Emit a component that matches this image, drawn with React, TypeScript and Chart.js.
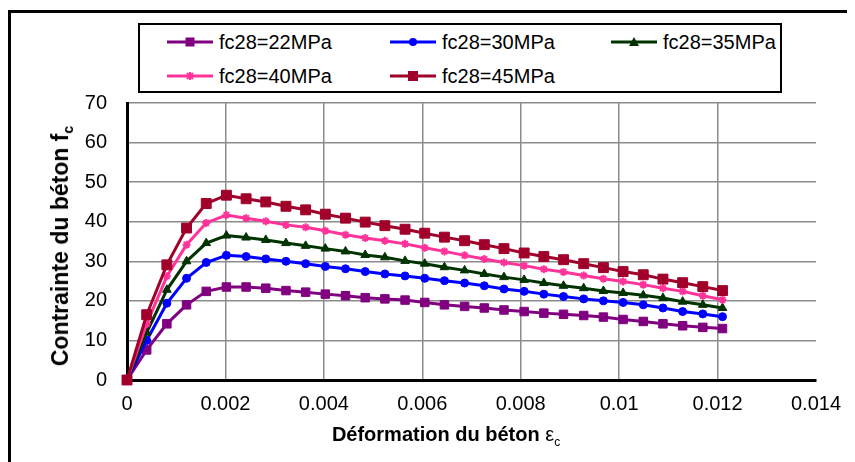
import React, { useEffect, useRef } from "react";
import { Chart, registerables } from "chart.js";

Chart.register(...registerables);

// Strain values (x)
const strain = [
  0, 0.0004, 0.00081, 0.00121, 0.00161, 0.00202, 0.00242, 0.00282, 0.00323, 0.00363,
  0.00403, 0.00444, 0.00484, 0.00524, 0.00565, 0.00605, 0.00645, 0.00686, 0.00726, 0.00766,
  0.00807, 0.00847, 0.00887, 0.00928, 0.00968, 0.01008, 0.01049, 0.01089, 0.01129, 0.0117,
  0.0121,
];

// Stress values (y) for each concrete class
const fc22 = [
  0, 7.6, 14.2, 19.0, 22.4, 23.5, 23.5, 23.2, 22.6, 22.2, 21.7, 21.3, 20.8, 20.5, 20.2, 19.6,
  19.0, 18.6, 18.2, 17.7, 17.3, 16.9, 16.6, 16.3, 15.9, 15.3, 14.8, 14.2, 13.7, 13.3, 13.0,
];
const fc30 = [
  0, 10.0, 19.4, 25.7, 29.7, 31.5, 31.2, 30.6, 30.0, 29.4, 28.7, 28.1, 27.4, 26.8, 26.3, 25.7,
  25.1, 24.5, 23.8, 23.0, 22.4, 21.7, 21.1, 20.5, 20.0, 19.6, 19.0, 18.2, 17.3, 16.7, 16.0,
];
const fc35 = [
  0, 12.0, 22.8, 30.0, 34.6, 36.5, 36.0, 35.4, 34.6, 33.9, 33.2, 32.5, 31.6, 31.0, 30.1, 29.4,
  28.5, 27.7, 26.8, 26.0, 25.3, 24.5, 23.8, 23.2, 22.5, 22.0, 21.4, 20.7, 19.8, 19.0, 18.2,
];
const fc40 = [
  0, 14.2, 26.2, 34.2, 39.7, 41.7, 40.9, 40.1, 39.2, 38.6, 37.7, 36.7, 35.9, 35.2, 34.4, 33.4,
  32.5, 31.5, 30.6, 29.7, 28.9, 28.0, 27.3, 26.4, 25.6, 24.9, 24.1, 23.2, 22.4, 21.3, 20.3,
];
const fc45 = [
  0, 16.5, 29.1, 38.4, 44.6, 46.7, 45.8, 45.0, 43.9, 43.0, 41.9, 40.9, 39.9, 39.0, 38.1, 37.1,
  36.1, 35.2, 34.2, 33.2, 32.1, 31.2, 30.4, 29.4, 28.4, 27.4, 26.6, 25.5, 24.6, 23.6, 22.6,
];

const seriesNames = ["fc28=22MPa", "fc28=30MPa", "fc28=35MPa", "fc28=40MPa", "fc28=45MPa"];
const seriesValues = [fc22, fc30, fc35, fc40, fc45];

const xTickValues = [0, 0.002, 0.004, 0.006, 0.008, 0.01, 0.012, 0.014];
const xTickLabels = ["0", "0.002", "0.004", "0.006", "0.008", "0.01", "0.012", "0.014"];
const yTickValues = [0, 10, 20, 30, 40, 50, 60, 70];
const yTickLabels = ["0", "10", "20", "30", "40", "50", "60", "70"];

const xTitle = "Déformation du béton ";
const yTitle = "Contrainte du béton f";

// styles
const seriesColors = ["#800080", "#0000ff", "#003300", "#ff3399", "#a0002a"];
const seriesMarkers = ["rect", "circle", "triangle", "star", "rect"];
const seriesRadius = [6, 4, 5, 4, 7];

const FONT = '"Liberation Sans", Arial, sans-serif';

function LegendSymbol({ idx }: { idx: number }) {
  const c = seriesColors[idx];
  const m = seriesMarkers[idx];
  let marker: any = null;
  if (m === "rect") {
    const s = idx === 4 ? 10 : 9;
    marker = <rect x={23 - s / 2} y={8 - s / 2} width={s} height={s} fill={c} />;
  } else if (m === "circle") {
    marker = <circle cx={23} cy={8} r={4} fill={c} />;
  } else if (m === "triangle") {
    marker = <polygon points="23,3 28,12 18,12" fill={c} />;
  } else {
    marker = (
      <g stroke={c} strokeWidth={2}>
        <line x1={23} y1={4} x2={23} y2={12} />
        <line x1={19} y1={8} x2={27} y2={8} />
        <line x1={20} y1={5} x2={26} y2={11} />
        <line x1={26} y1={5} x2={20} y2={11} />
      </g>
    );
  }
  return (
    <svg width={46} height={16} style={{ position: "absolute", left: 0, top: -8 }}>
      <line x1={0} y1={8} x2={46} y2={8} stroke={c} strokeWidth={3} />
      {marker}
    </svg>
  );
}

export default function App() {
  const ref = useRef<HTMLCanvasElement>(null);

  useEffect(() => {
    const datasets = seriesValues.map((vals, i) => ({
      label: seriesNames[i],
      data: vals.map((v, j) => ({ x: strain[j], y: v })),
      borderColor: seriesColors[i],
      backgroundColor: seriesColors[i],
      borderWidth: 3,
      pointStyle: seriesMarkers[i] as any,
      pointRadius: seriesRadius[i],
      pointBorderWidth: seriesMarkers[i] === "star" ? 2 : 1,
      pointBorderColor: seriesColors[i],
      pointBackgroundColor: seriesColors[i],
      tension: 0,
      clip: false as any,
      order: seriesValues.length - i,
    }));

    const chart = new Chart(ref.current!, {
      type: "line",
      data: { datasets },
      options: {
        animation: false,
        responsive: false,
        devicePixelRatio: 1,
        parsing: false as any,
        layout: { padding: { left: 77, top: 103, right: 39, bottom: 32 } },
        plugins: { legend: { display: false }, tooltip: { enabled: false }, title: { display: false } },
        scales: {
          x: {
            type: "linear",
            min: 0,
            max: 0.014,
            afterFit: (s: any) => {
              s.height = 50;
            },
            afterBuildTicks: (s: any) => {
              s.ticks = xTickValues.map((v) => ({ value: v }));
            },
            ticks: {
              autoSkip: false,
              maxRotation: 0,
              padding: 12,
              color: "#000",
              font: { family: FONT, size: 20 },
              callback: (_v: any, i: number) => xTickLabels[i],
            },
            grid: {
              drawTicks: false,
              lineWidth: 1.5,
              color: (c: any) =>
                c.tick && (c.tick.value === 0 || c.tick.value > 0.0139) ? "rgba(0,0,0,0)" : "#8c8c8c",
            },
            border: { display: true, color: "#000", width: 3 },
          },
          y: {
            type: "linear",
            min: 0,
            max: 70,
            afterFit: (s: any) => {
              s.width = 50;
            },
            afterBuildTicks: (s: any) => {
              s.ticks = yTickValues.map((v) => ({ value: v }));
            },
            ticks: {
              autoSkip: false,
              padding: 20,
              color: "#000",
              font: { family: FONT, size: 20 },
              callback: (_v: any, i: number) => yTickLabels[i],
            },
            grid: {
              drawTicks: false,
              lineWidth: 1.5,
              color: (c: any) => (c.tick && c.tick.value === 0 ? "rgba(0,0,0,0)" : "#8c8c8c"),
            },
            border: { display: true, color: "#000", width: 3 },
          },
        },
      },
    });
    return () => chart.destroy();
  }, []);

  const legendPos = [
    { x: 167, y: 42 },
    { x: 390, y: 42 },
    { x: 611, y: 42 },
    { x: 167, y: 76 },
    { x: 390, y: 76 },
  ];

  return (
    <div
      style={{
        position: "absolute",
        left: 0,
        top: 0,
        width: 855,
        height: 462,
        background: "#fff",
        overflow: "hidden",
        fontFamily: FONT,
        color: "#000",
      }}
    >
      <div
        style={{
          position: "absolute",
          left: 8,
          top: 10,
          width: 836,
          height: 460,
          borderLeft: "3px solid #000",
          borderTop: "3px solid #000",
        }}
      />
      <canvas
        ref={ref}
        width={855}
        height={462}
        style={{ position: "absolute", left: 0, top: 0, width: 855, height: 462 }}
      />
      <div
        style={{
          position: "absolute",
          left: 138,
          top: 23,
          width: 644,
          height: 70,
          boxSizing: "border-box",
          border: "2px solid #000",
          background: "#fff",
        }}
      />
      {seriesNames.map((name, i) => (
        <div key={name} style={{ position: "absolute", left: legendPos[i].x, top: legendPos[i].y }}>
          <LegendSymbol idx={i} />
          <div
            style={{
              position: "absolute",
              left: 52,
              top: -12,
              height: 24,
              lineHeight: "24px",
              fontSize: 20,
              whiteSpace: "nowrap",
            }}
          >
            {name}
          </div>
        </div>
      ))}
      <div
        style={{
          position: "absolute",
          left: 64,
          top: 246,
          transform: "translate(-50%, -50%) rotate(-90deg)",
          whiteSpace: "nowrap",
          fontWeight: "bold",
          fontSize: 23,
          lineHeight: "28px",
        }}
      >
        {yTitle}
        <span style={{ fontSize: 14, verticalAlign: "-5px" }}>c</span>
      </div>
      <div
        style={{
          position: "absolute",
          left: 446,
          top: 438,
          transform: "translate(-50%, -50%)",
          whiteSpace: "nowrap",
          fontWeight: "bold",
          fontSize: 20,
          lineHeight: "26px",
        }}
      >
        {xTitle}
        <span style={{ fontWeight: "normal" }}>ε</span>
        <span style={{ fontSize: 12, fontWeight: "normal", verticalAlign: "-5px" }}>c</span>
      </div>
    </div>
  );
}
